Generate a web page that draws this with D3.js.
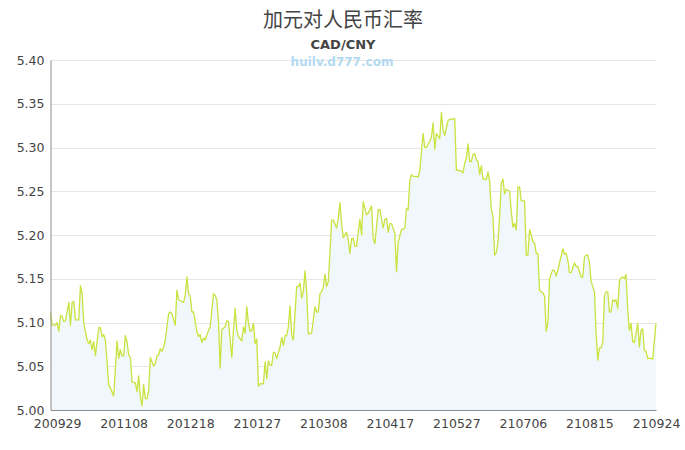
<!DOCTYPE html>
<html>
<head>
<meta charset="utf-8">
<script src="https://cdn.jsdelivr.net/npm/d3@7"></script>
<style>
  body { margin: 0; background: #fff; }
  svg { display: block; font-family: "DejaVu Sans", sans-serif; }
</style>
</head>
<body>
<div id="chart"></div>
<script>
// chart texts
var title = "加元对人民币汇率";
var subtitle = "CAD/CNY";
var watermark = "huilv.d777.com";

// first day of the series, the data below is days after it
var startDate = "2020-09-25";
var endDate = "2021-09-24";

var days = [
    0, 1, 3, 4, 5, 6, 7, 8, 9, 11,
    12, 13, 14, 15, 17, 18, 19, 20, 22, 23,
    24, 25, 26, 27, 29, 30, 31, 32, 33, 35,
    36, 38, 40, 41, 42, 43, 44, 45, 46, 47,
    48, 49, 51, 52, 53, 54, 55, 56, 57, 58,
    59, 60, 62, 63, 64, 65, 66, 67, 68, 69,
    71, 72, 73, 75, 76, 77, 79, 80, 81, 82,
    83, 84, 85, 86, 88, 89, 90, 91, 92, 93,
    95, 96, 98, 99, 100, 101, 102, 103, 105, 106,
    107, 109, 110, 111, 112, 113, 115, 116, 117, 118,
    119, 120, 121, 122, 123, 124, 125, 126, 128, 129,
    130, 131, 132, 133, 134, 135, 136, 138, 139, 140,
    141, 142, 143, 144, 145, 146, 148, 149, 150, 151,
    152, 153, 154, 155, 157, 158, 159, 160, 161, 162,
    163, 164, 165, 166, 167, 168, 169, 170, 172, 173,
    174, 175, 176, 178, 179, 180, 181, 182, 183, 184,
    186, 187, 188, 190, 191, 193, 194, 195, 197, 198,
    200, 201, 202, 203, 204, 205, 207, 208, 209, 211,
    212, 213, 214, 215, 216, 217, 218, 220, 221, 222,
    224, 225, 226, 228, 229, 230, 231, 232, 234, 235,
    236, 237, 239, 240, 243, 244, 245, 247, 248, 249,
    250, 251, 252, 253, 254, 255, 256, 257, 258, 259,
    260, 261, 262, 263, 264, 265, 266, 267, 268, 269,
    270, 271, 272, 273, 274, 275, 276, 277, 278, 279,
    280, 281, 282, 283, 285, 286, 287, 288, 289, 290,
    291, 292, 293, 294, 295, 296, 297, 298, 299, 300,
    301, 302, 303, 304, 305, 306, 308, 309, 310, 311,
    312, 313, 315, 316, 317, 319, 320, 321, 322, 323,
    324, 325, 327, 328, 329, 330, 331, 332, 333, 334,
    335, 336, 337, 338, 339, 340, 341, 342, 343, 344,
    345, 346, 347, 348, 349, 350, 351, 352, 353, 354,
    355, 356, 357, 358, 359, 361, 362, 364
];

var rates = [
    5.111, 5.097, 5.097, 5.100, 5.090, 5.108, 5.107, 5.101, 5.102, 5.123,
    5.097, 5.123, 5.124, 5.103, 5.103, 5.142, 5.133, 5.099, 5.080, 5.076,
    5.080, 5.069, 5.078, 5.062, 5.094, 5.094, 5.084, 5.086, 5.080, 5.029,
    5.025, 5.016, 5.079, 5.059, 5.069, 5.062, 5.062, 5.085, 5.078, 5.063,
    5.060, 5.032, 5.031, 5.021, 5.039, 5.015, 5.005, 5.029, 5.013, 5.013,
    5.022, 5.060, 5.050, 5.053, 5.062, 5.063, 5.070, 5.067, 5.072, 5.080,
    5.110, 5.112, 5.110, 5.097, 5.137, 5.126, 5.124, 5.123, 5.131, 5.152,
    5.133, 5.130, 5.112, 5.112, 5.090, 5.084, 5.086, 5.077, 5.082, 5.080,
    5.091, 5.095, 5.133, 5.131, 5.126, 5.101, 5.048, 5.092, 5.095, 5.102,
    5.101, 5.060, 5.091, 5.116, 5.091, 5.084, 5.079, 5.095, 5.088, 5.118,
    5.099, 5.090, 5.091, 5.099, 5.076, 5.081, 5.027, 5.030, 5.030, 5.055,
    5.036, 5.056, 5.051, 5.051, 5.066, 5.065, 5.059, 5.072, 5.083, 5.074,
    5.085, 5.085, 5.095, 5.119, 5.085, 5.080, 5.141, 5.141, 5.145, 5.128,
    5.135, 5.159, 5.135, 5.087, 5.088, 5.103, 5.118, 5.112, 5.112, 5.133,
    5.135, 5.141, 5.155, 5.141, 5.147, 5.179, 5.217, 5.217, 5.208, 5.219,
    5.237, 5.213, 5.197, 5.203, 5.194, 5.179, 5.196, 5.196, 5.187, 5.187,
    5.218, 5.200, 5.238, 5.223, 5.225, 5.233, 5.196, 5.190, 5.229, 5.229,
    5.208, 5.218, 5.219, 5.203, 5.213, 5.213, 5.202, 5.158, 5.192, 5.206,
    5.207, 5.208, 5.230, 5.229, 5.262, 5.269, 5.267, 5.267, 5.266, 5.274,
    5.316, 5.300, 5.300, 5.307, 5.312, 5.328, 5.298, 5.316, 5.310, 5.340,
    5.320, 5.314, 5.331, 5.332, 5.333, 5.274, 5.274, 5.273, 5.271, 5.282,
    5.288, 5.304, 5.284, 5.284, 5.292, 5.293, 5.286, 5.284, 5.269, 5.279,
    5.264, 5.264, 5.263, 5.272, 5.261, 5.229, 5.221, 5.177, 5.180, 5.192,
    5.221, 5.259, 5.264, 5.247, 5.252, 5.251, 5.250, 5.227, 5.209, 5.213,
    5.206, 5.255, 5.255, 5.239, 5.239, 5.177, 5.177, 5.206, 5.200, 5.192,
    5.191, 5.179, 5.179, 5.137, 5.135, 5.134, 5.130, 5.090, 5.100, 5.149,
    5.156, 5.160, 5.159, 5.153, 5.160, 5.168, 5.184, 5.178, 5.179, 5.171,
    5.157, 5.157, 5.168, 5.164, 5.164, 5.152, 5.152, 5.175, 5.177, 5.177,
    5.168, 5.147, 5.135, 5.088, 5.057, 5.071, 5.071, 5.078, 5.130, 5.135,
    5.135, 5.112, 5.112, 5.126, 5.124, 5.126, 5.116, 5.147, 5.151, 5.152,
    5.150, 5.155, 5.114, 5.091, 5.099, 5.078, 5.077, 5.088, 5.099, 5.072,
    5.091, 5.093, 5.068, 5.067, 5.059, 5.059, 5.058, 5.099
];

// x axis labels (yymmdd) and y axis ticks
var xTickLabels = ["200929", "201108", "201218", "210127", "210308", "210417", "210527", "210706", "210815", "210924"];
var yTicks = [5.00, 5.05, 5.10, 5.15, 5.20, 5.25, 5.30, 5.35, 5.40];

// set the dimensions and margins of the graph
var W = 685, H = 450;
var margin = { top: 60, right: 29, bottom: 40, left: 50.5 },
    width = W - margin.left - margin.right,
    height = H - margin.top - margin.bottom;

var svg = d3.select("#chart")
    .append("svg")
    .attr("width", W)
    .attr("height", H);

var parseIso = d3.timeParse("%Y-%m-%d");
var parseShort = d3.timeParse("%y%m%d");
var start = parseIso(startDate);

var data = days.map(function(d, i) {
    return { date: d3.timeDay.offset(start, d), value: rates[i] };
});

var x = d3.scaleTime()
    .domain([start, parseIso(endDate)])
    .range([0, width]);

var y = d3.scaleLinear()
    .domain([5.00, 5.40])
    .range([height, 0]);

var g = svg.append("g")
    .attr("transform", "translate(" + margin.left + "," + margin.top + ")");

// grid lines
g.append("g")
    .selectAll("line")
    .data(yTicks.slice(1))
    .enter()
    .append("line")
    .attr("x1", 0)
    .attr("x2", width)
    .attr("y1", function(d) { return Math.round(y(d)) + 0.5; })
    .attr("y2", function(d) { return Math.round(y(d)) + 0.5; })
    .attr("stroke", "#e6e6e6")
    .attr("stroke-width", 1);

// area under the line
var area = d3.area()
    .x(function(d) { return x(d.date); })
    .y0(height)
    .y1(function(d) { return y(d.value); });

g.append("path")
    .datum(data)
    .attr("d", area)
    .attr("fill", "#f1f8fd");

// the rate line
var line = d3.line()
    .x(function(d) { return x(d.date); })
    .y(function(d) { return y(d.value); });

g.append("path")
    .datum(data)
    .attr("d", line)
    .attr("fill", "none")
    .attr("stroke", "#c9e23f")
    .attr("stroke-width", 1.3)
    .attr("stroke-linejoin", "round");

// y axis
var yAxis = g.append("g")
    .call(d3.axisLeft(y)
        .tickValues(yTicks)
        .tickSize(0)
        .tickPadding(6)
        .tickFormat(d3.format(".2f")));
yAxis.select(".domain").attr("stroke", "#8c8c8c");
yAxis.selectAll("text")
    .attr("fill", "#444")
    .attr("font-size", "12.5px")
    .attr("font-family", "DejaVu Sans, sans-serif");

// x axis
var xAxis = g.append("g")
    .attr("transform", "translate(0," + height + ")")
    .call(d3.axisBottom(x)
        .tickValues(xTickLabels.map(function(s) { return parseShort(s); }))
        .tickSize(0)
        .tickPadding(9)
        .tickFormat(d3.timeFormat("%y%m%d")));
xAxis.select(".domain").attr("stroke", "#8c8c8c");
xAxis.selectAll("text")
    .attr("fill", "#444")
    .attr("font-size", "12.5px")
    .attr("font-family", "DejaVu Sans, sans-serif");

// titles
svg.append("text")
    .attr("x", 343)
    .attr("y", 27)
    .attr("text-anchor", "middle")
    .attr("font-family", "Noto Sans CJK SC, sans-serif")
    .attr("font-size", "20px")
    .attr("fill", "#444")
    .text(title);

svg.append("text")
    .attr("x", 343)
    .attr("y", 49)
    .attr("text-anchor", "middle")
    .attr("font-family", "DejaVu Sans, sans-serif")
    .attr("font-weight", "bold")
    .attr("font-size", "13px")
    .attr("fill", "#444")
    .text(subtitle);

svg.append("text")
    .attr("x", 342)
    .attr("y", 66)
    .attr("text-anchor", "middle")
    .attr("font-family", "DejaVu Sans, sans-serif")
    .attr("font-weight", "bold")
    .attr("font-size", "12px")
    .attr("fill", "#b3daf0")
    .text(watermark);
</script>
</body>
</html>
